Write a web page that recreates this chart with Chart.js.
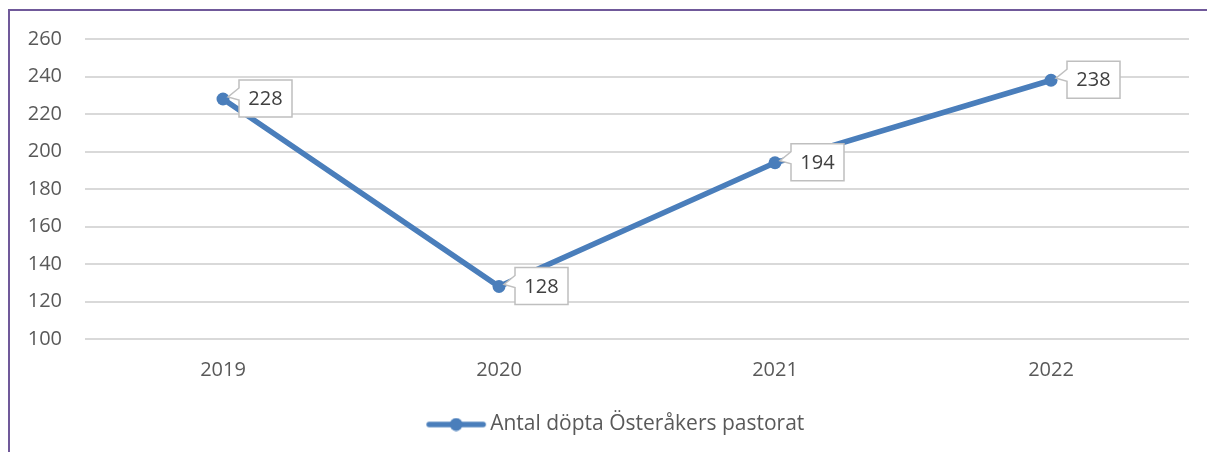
<!DOCTYPE html>
<html>
<head>
<meta charset="utf-8">
<script src="https://cdn.jsdelivr.net/npm/chart.js@4/dist/chart.umd.min.js"></script>
<style>
html,body{margin:0;padding:0;background:#fff;}
#wrap{position:absolute;left:0;top:0;width:1207px;height:452px;}
#frame{position:absolute;left:8px;top:9px;width:1207px;height:460px;border-left:2px solid #70599a;border-top:2px solid #70599a;box-sizing:border-box;}
canvas{position:absolute;left:0;top:0;}
</style>
</head>
<body>
<div id="wrap">
<div id="frame"></div>
<canvas id="c" width="1207" height="452"></canvas>
</div>
<script>
const categories = ["2019", "2020", "2021", "2022"];
const seriesName = "Antal döpta Österåkers pastorat";
const seriesValues = [228, 128, 194, 238];
const yMin = 100, yMax = 260, yStep = 20;

const blue = '#4a7ebb';
const FONT = '"Open Sans", Lato, sans-serif';

// legend marker: line with a dot
const mk = document.createElement('canvas');
mk.width = 62; mk.height = 14;
(function(){
  const g = mk.getContext('2d');
  g.strokeStyle = blue; g.lineWidth = 5.5; g.lineCap = 'round';
  g.beginPath(); g.moveTo(4,7); g.lineTo(58,7); g.stroke();
  g.fillStyle = blue; g.beginPath(); g.arc(31,7,6.5,0,Math.PI*2); g.fill();
})();

const calloutLabels = {
  id: 'calloutLabels',
  afterLayout(chart){
    const lg = chart.legend;
    if (lg) { lg.left += 24; lg.right += 24; lg.top += 3; lg.bottom += 3; }
  },
  afterDatasetsDraw(chart){
    const ctx = chart.ctx;
    const meta = chart.getDatasetMeta(0);
    const data = chart.data.datasets[0].data;
    ctx.save();
    ctx.font = '20px ' + FONT;
    meta.data.forEach((el, i) => {
      const x = el.x, y = el.y;
      const L = x + 16, T = y - 19, W = 53, H = 37;
      ctx.beginPath();
      ctx.moveTo(L, T);
      ctx.lineTo(L + W, T);
      ctx.lineTo(L + W, T + H);
      ctx.lineTo(L, T + H);
      ctx.lineTo(L, y + 1);
      ctx.lineTo(x + 5, y - 2);
      ctx.lineTo(L, y - 11);
      ctx.closePath();
      ctx.fillStyle = '#ffffff';
      ctx.fill();
      ctx.strokeStyle = '#bfbfbf';
      ctx.lineWidth = 1.5;
      ctx.stroke();
      ctx.fillStyle = '#404040';
      ctx.textAlign = 'center';
      ctx.textBaseline = 'middle';
      ctx.fillText(String(data[i]), L + W/2, T + H/2 + 1);
    });
    ctx.restore();
  }
};

new Chart(document.getElementById('c'), {
  type: 'line',
  data: {
    labels: categories,
    datasets: [{
      label: seriesName,
      data: seriesValues,
      borderColor: blue,
      backgroundColor: blue,
      borderWidth: 5.5,
      pointRadius: 6.5,
      pointBackgroundColor: blue,
      pointBorderColor: blue,
      pointBorderWidth: 0,
      tension: 0,
      fill: false
    }]
  },
  options: {
    responsive: false,
    animation: false,
    devicePixelRatio: 1,
    layout: { padding: { top: 39, right: 18, left: 0, bottom: 10 } },
    scales: {
      x: {
        offset: true,
        grid: { display: false, drawTicks: false },
        border: { display: false },
        ticks: { color: '#595959', font: { family: FONT, size: 20 }, padding: 19 },
        afterFit(s){ s.height = 60; }
      },
      y: {
        min: yMin, max: yMax,
        ticks: { stepSize: yStep, color: '#595959', font: { family: FONT, size: 20 }, padding: 23 },
        grid: { color: '#d9d9d9', lineWidth: 2, drawTicks: false },
        border: { display: false },
        afterFit(s){ s.width = 85; }
      }
    },
    plugins: {
      legend: {
        position: 'bottom',
        labels: {
          usePointStyle: true,
          pointStyleWidth: 47,
          color: '#595959',
          font: { family: FONT, size: 21 },
          padding: 12,
          generateLabels(chart){
            return [{
              text: seriesName,
              pointStyle: mk,
              fillStyle: blue,
              strokeStyle: blue,
              lineWidth: 0,
              hidden: false,
              datasetIndex: 0,
              fontColor: '#595959'
            }];
          }
        }
      },
      tooltip: { enabled: false }
    }
  },
  plugins: [calloutLabels]
});
</script>
</body>
</html>
